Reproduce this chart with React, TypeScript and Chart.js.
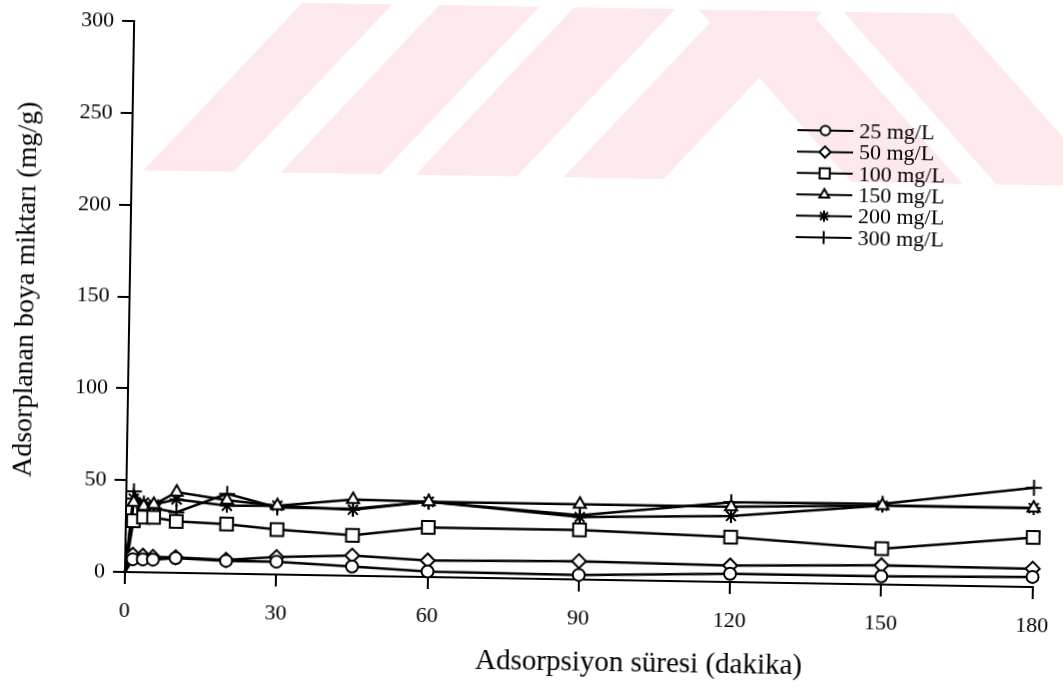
import React, { useEffect, useRef } from 'react';
import { Chart, registerables } from 'chart.js';
import { drawPoint } from 'chart.js/helpers';

Chart.register(...registerables);

// ---- data ----
const timeMin = [0, 1.5, 3.5, 5.5, 10, 20, 30, 45, 60, 90, 120, 150, 180];
const seriesLabels = ['25 mg/L', '50 mg/L', '100 mg/L', '150 mg/L', '200 mg/L', '300 mg/L'];
const c25 = [0, 7, 7, 7, 8, 7, 7, 5, 3, 2.5, 4.5, 4.5, 5.5];
const c50 = [0, 9.5, 9, 8.5, 8.5, 7.5, 9.5, 11, 9, 10, 9, 10.5, 10];
const c100 = [0, 28, 30, 30, 28, 27, 24.5, 22, 27, 27, 24.5, 19.5, 27];
const c150 = [0, 38, 36, 37, 44, 40, 37.5, 41.5, 41, 41, 41, 43, 43];
const c200 = [0, 40, 38, 37, 40, 37, 37.5, 36, 41, 34, 36, 43, 43];
const c300 = [0, 44, 35, 35, 33, 43.5, 36.5, 36.5, 41, 35, 43.5, 44, 54];
const xTicks = [0, 30, 60, 90, 120, 150, 180];
const yTicks = [0, 50, 100, 150, 200, 250, 300];
const xTitle = 'Adsorpsiyon süresi (dakika)';
const yTitle = 'Adsorplanan boya miktarı (mg/g)';

const seriesValues = [c25, c50, c100, c150, c200, c300];

// ---- styles ----
const SERIF = '"Liberation Serif", "Times New Roman", serif';
const markerStyles = [
  { pointStyle: 'circle', radius: 6 },
  { pointStyle: 'rectRot', radius: 7 },
  { pointStyle: 'rect', radius: 9 },
  { pointStyle: 'triangle', radius: 7 },
  { pointStyle: 'star', radius: 7 },
  { pointStyle: 'cross', radius: 8 },
];

// background watermark (pale stripes of the scanned page)
const WM_COLOR = '#fde8ec';
const WM_BOTTOM = 170;
const wmStripes = [
  // [bottomLeft, bottomRight, topLeft, topRight]
  [137, 227, 302, 392],
  [274, 374, 439, 539],
  [409, 510, 574, 675],
  [557, 657, 722, 822],
  [845, 956, 680, 791],
  [990, 1100, 825, 935],
];

const watermarkPlugin = {
  id: 'watermark',
  beforeDraw(chart: any) {
    const ctx = chart.ctx;
    ctx.save();
    ctx.fillStyle = WM_COLOR;
    wmStripes.forEach(([bl, br, tl, tr]) => {
      ctx.beginPath();
      ctx.moveTo(bl, WM_BOTTOM);
      ctx.lineTo(br, WM_BOTTOM);
      ctx.lineTo(tr, -10);
      ctx.lineTo(tl, -10);
      ctx.closePath();
      ctx.fill();
    });
    ctx.restore();
  },
};

const titlesPlugin = {
  id: 'axisTitles',
  afterDraw(chart: any) {
    const ctx = chart.ctx;
    ctx.save();
    ctx.fillStyle = '#000';
    ctx.textAlign = 'center';
    ctx.textBaseline = 'middle';
    ctx.font = `29px ${SERIF}`;
    ctx.fillText(xTitle, 640, 655);
    ctx.font = `28px ${SERIF}`;
    ctx.translate(22, 291);
    ctx.rotate(-Math.PI / 2);
    ctx.fillText(yTitle, 0, 0);
    ctx.restore();
  },
};

const legendPlugin = {
  id: 'customLegend',
  afterDraw(chart: any) {
    const ctx = chart.ctx;
    ctx.save();
    seriesLabels.forEach((label, i) => {
      const y = 119 + i * 21.4;
      ctx.strokeStyle = '#000';
      ctx.lineWidth = 2;
      ctx.beginPath();
      ctx.moveTo(790, y);
      ctx.lineTo(846, y);
      ctx.stroke();
      ctx.fillStyle = '#fff';
      ctx.strokeStyle = '#000';
      ctx.lineWidth = 2;
      const m = markerStyles[i];
      drawPoint(ctx, { pointStyle: m.pointStyle, radius: m.radius * 0.8, rotation: 0, borderWidth: 2 } as any, 818, y);
      ctx.fillStyle = '#000';
      ctx.font = `22px ${SERIF}`;
      ctx.textAlign = 'left';
      ctx.textBaseline = 'middle';
      ctx.fillText(label, 852, y + 1);
    });
    ctx.restore();
  },
};

export default function App() {
  const ref = useRef<HTMLCanvasElement | null>(null);

  useEffect(() => {
    if (!ref.current) return;
    const datasets = seriesValues.map((vals, i) => ({
      label: seriesLabels[i],
      data: timeMin.map((t, j) => ({ x: t, y: vals[j] })),
      borderColor: '#000',
      borderWidth: 2.5,
      backgroundColor: '#fff',
      pointBackgroundColor: '#fff',
      pointBorderColor: '#000',
      pointBorderWidth: 2,
      pointStyle: markerStyles[i].pointStyle,
      pointRadius: (c: any) => (c.dataIndex === 0 && i !== 5 ? 0 : markerStyles[i].radius),
      tension: 0,
      clip: false,
    }));

    const tickFont = { family: SERIF, size: 22 };
    const chart = new Chart(ref.current, {
      type: 'line',
      data: { datasets: datasets as any },
      options: {
        animation: false,
        responsive: false,
        devicePixelRatio: 1,
        layout: { padding: { top: 17, right: 23, left: 0, bottom: 0 } },
        plugins: { legend: { display: false }, tooltip: { enabled: false } },
        scales: {
          x: {
            type: 'linear',
            min: xTicks[0],
            max: xTicks[xTicks.length - 1],
            afterBuildTicks: (s: any) => {
              s.ticks = xTicks.map((v) => ({ value: v }));
            },
            afterFit: (s: any) => {
              s.height = 126;
            },
            ticks: { font: tickFont, color: '#000', padding: 14, maxRotation: 0 },
            grid: { display: true, drawOnChartArea: false, drawTicks: true, tickLength: 12, color: '#000', lineWidth: 2 },
            border: { display: true, color: '#000', width: 2 },
          },
          y: {
            min: yTicks[0],
            max: yTicks[yTicks.length - 1],
            afterBuildTicks: (s: any) => {
              s.ticks = yTicks.map((v) => ({ value: v }));
            },
            afterFit: (s: any) => {
              s.width = 125;
            },
            ticks: { font: tickFont, color: '#000', padding: 8 },
            grid: { display: true, drawOnChartArea: false, drawTicks: true, tickLength: 12, color: '#000', lineWidth: 2 },
            border: { display: true, color: '#000', width: 2 },
          },
        },
      },
      plugins: [watermarkPlugin, titlesPlugin, legendPlugin],
    });
    return () => chart.destroy();
  }, []);

  return (
    <div
      style={{
        position: 'absolute',
        left: 0,
        top: 0,
        width: 1063,
        height: 698,
        background: '#fff',
        transform: 'rotate(0.95deg)',
        transformOrigin: '125px 572px',
      }}
    >
      <canvas ref={ref} width={1063} height={698} style={{ display: 'block' }} />
    </div>
  );
}
